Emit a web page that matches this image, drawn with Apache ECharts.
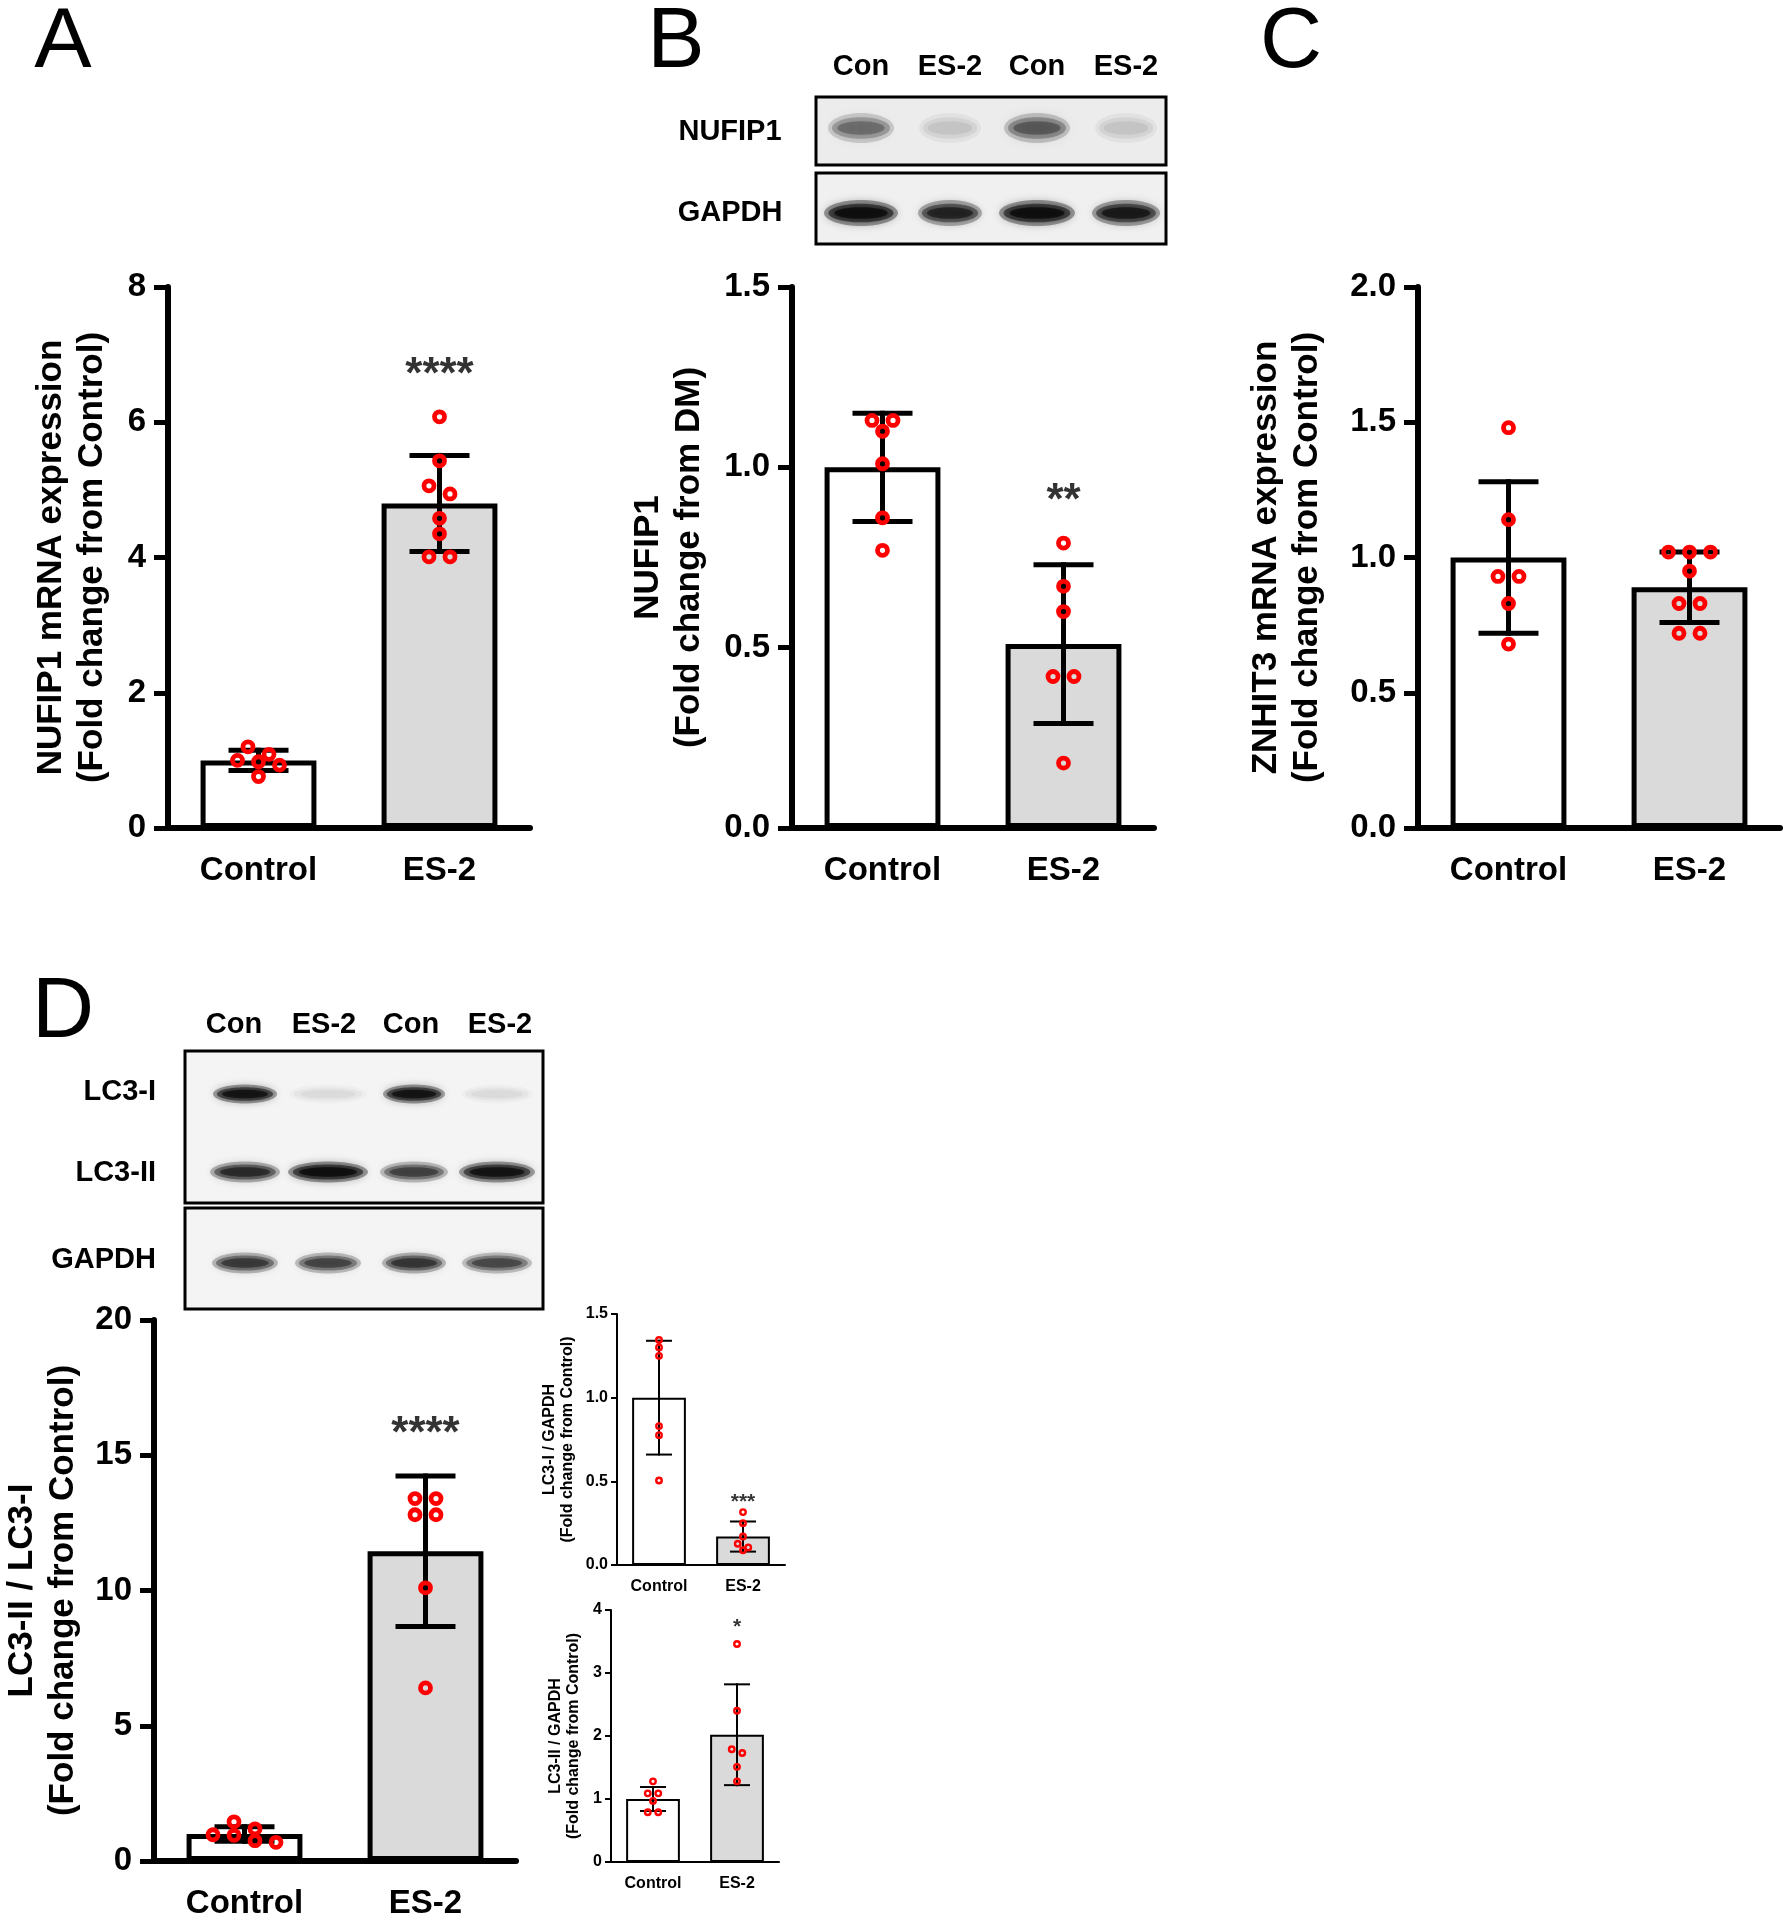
<!DOCTYPE html>
<html><head><meta charset="utf-8">
<script src="https://cdn.jsdelivr.net/npm/echarts@6/dist/echarts.min.js"></script>
<style>html,body{margin:0;padding:0;background:#fff}#c{width:1787px;height:1920px}</style>
</head><body><div id="c"></div>
<script>
// ---------------- DATA ----------------
const categories = ['Control', 'ES-2'];

// Panel A: NUFIP1 mRNA
const aMeans = [1.0, 4.8];
const aSD = [0.15, 0.71];
const aControl = [0.98, 1.09, 0.76, 1.20, 0.93, 1.00];
const aES2 = [6.08, 5.43, 5.06, 4.94, 4.58, 4.35, 4.01, 4.01];
const aTicks = [0, 2, 4, 6, 8];

// Panel B: NUFIP1 protein
const bMeans = [1.0, 0.51];
const bSD = [0.15, 0.22];
const bControl = [1.13, 1.13, 1.10, 1.01, 0.86, 0.77];
const bES2 = [0.79, 0.67, 0.60, 0.42, 0.42, 0.18];
const bTicks = [0.0, 0.5, 1.0, 1.5];

// Panel C: ZNHIT3 mRNA
const cMeans = [1.0, 0.89];
const cSD = [0.28, 0.13];
const cControl = [1.48, 1.14, 0.93, 0.93, 0.83, 0.68];
const cES2 = [1.02, 1.02, 1.02, 0.95, 0.83, 0.83, 0.72, 0.72];
const cTicks = [0.0, 0.5, 1.0, 1.5, 2.0];

// Panel D: LC3-II / LC3-I
const dMeans = [1.0, 11.45];
const dSD = [0.27, 2.78];
const dControl = [1.45, 1.19, 0.97, 0.95, 0.75, 0.69];
const dES2 = [13.4, 13.4, 12.8, 12.8, 10.1, 6.4];
const dTicks = [0, 5, 10, 15, 20];

// Inset 1: LC3-I / GAPDH
const s1Means = [1.0, 0.17];
const s1SD = [0.34, 0.09];
const s1Control = [1.345, 1.30, 1.25, 0.83, 0.776, 0.505];
const s1ES2 = [0.316, 0.25, 0.17, 0.127, 0.105, 0.088];
const s1Ticks = [0.0, 0.5, 1.0, 1.5];

// Inset 2: LC3-II / GAPDH
const s2Means = [1.0, 2.02];
const s2SD = [0.19, 0.80];
const s2Control = [1.28, 1.09, 1.09, 0.97, 0.79, 0.79];
const s2ES2 = [3.46, 2.40, 1.79, 1.73, 1.51, 1.28];
const s2Ticks = [0, 1, 2, 3, 4];

// Western blot labels and relative band intensities (0..1)
const blotLanes = ['Con', 'ES-2', 'Con', 'ES-2'];
const nufip1Band = [0.42, 0.12, 0.5, 0.12];
const gapdhBandB = [1.0, 0.8, 1.0, 0.88];
const lc3IBand = [0.95, 0.07, 0.95, 0.07];
const lc3IIBand = [0.75, 1.0, 0.62, 0.95];
const gapdhBandD = [0.66, 0.6, 0.68, 0.58];

// ---------------- LAYOUT / STYLE ----------------
const FONT = '"Liberation Sans", Arial, Helvetica, sans-serif';
const bigStyle = {axisW: 6, tickLen: 14, tickW: 5, font: 33, titleFont: 35, titleLH: 41, barBorder: 5,
  sym: 10, symBorder: 4.8, cap: 30, errW: 5, rowH: 10, colW: 21, sigFont: 44, sigOff: -41, labMargin: 22, catMargin: 26};
const smallStyle = {axisW: 2, tickLen: 6, tickW: 2, font: 16, titleFont: 16, titleLH: 18, barBorder: 2,
  sym: 5.5, symBorder: 2.4, cap: 13, errW: 2, rowH: 5.4, colW: 10.5, sigFont: 21, sigOff: -10, labMargin: 9, catMargin: 14};

const panels = [
  {means: aMeans, sd: aSD, pts: [aControl, aES2], ticks: aTicks, dec: 0, sig: '****',
   title: 'NUFIP1 mRNA expression\n(Fold change from Control)', grid: {left: 168, top: 287, width: 362, height: 541}, st: bigStyle, nameGap: 55},
  {means: bMeans, sd: bSD, pts: [bControl, bES2], ticks: bTicks, dec: 1, sig: '**',
   title: 'NUFIP1\n(Fold change from DM)', grid: {left: 792, top: 287, width: 362, height: 541}, st: bigStyle, nameGap: 82},
  {means: cMeans, sd: cSD, pts: [cControl, cES2], ticks: cTicks, dec: 1, sig: '',
   title: 'ZNHIT3 mRNA expression\n(Fold change from Control)', grid: {left: 1418, top: 287, width: 362, height: 541}, st: bigStyle, nameGap: 90},
  {means: dMeans, sd: dSD, pts: [dControl, dES2], ticks: dTicks, dec: 0, sig: '****',
   title: 'LC3-II / LC3-I\n(Fold change from Control)', grid: {left: 154, top: 1320, width: 362, height: 542}, st: bigStyle, nameGap: 70},
  {means: s1Means, sd: s1SD, pts: [s1Control, s1ES2], ticks: s1Ticks, dec: 1, sig: '***',
   title: 'LC3-I / GAPDH\n(Fold change from Control)', grid: {left: 617, top: 1314, width: 168, height: 251}, st: smallStyle, nameGap: 40},
  {means: s2Means, sd: s2SD, pts: [s2Control, s2ES2], ticks: s2Ticks, dec: 0, sig: '*',
   title: 'LC3-II / GAPDH\n(Fold change from Control)', grid: {left: 611, top: 1610, width: 168, height: 252}, st: Object.assign({}, smallStyle, {sigOff: -17}), nameGap: 28}
];

// beeswarm-like row spreading (pixel based)
function swarm(vals, pxPerUnit, rowH, colW) {
  const idx = vals.map((v, i) => i).sort((a, b) => vals[b] - vals[a]);
  const off = new Array(vals.length).fill(0);
  let row = [];
  const flush = () => { row.forEach((j, k) => { off[j] = (k - (row.length - 1) / 2) * colW; }); row = []; };
  idx.forEach(j => {
    if (row.length && (vals[row[0]] - vals[j]) * pxPerUnit >= rowH) flush();
    row.push(j);
  });
  flush();
  return off;
}

const grids = [], xAxes = [], yAxes = [], series = [];
panels.forEach((p, i) => {
  const st = p.st;
  const yMin = p.ticks[0], yMax = p.ticks[p.ticks.length - 1], step = p.ticks[1] - p.ticks[0];
  grids.push(Object.assign({containLabel: false}, p.grid));
  xAxes.push({type: 'category', gridIndex: i, data: categories,
    axisLine: {lineStyle: {color: '#000', width: st.axisW}}, axisTick: {show: false},
    axisLabel: {interval: 0, color: '#000', fontSize: st.font, fontWeight: 'bold', fontFamily: FONT, margin: st.catMargin}});
  xAxes.push({type: 'value', gridIndex: i, min: 0, max: 2, show: false});
  yAxes.push({type: 'value', gridIndex: i, min: yMin, max: yMax, interval: step,
    splitLine: {show: false},
    axisLine: {show: true, lineStyle: {color: '#000', width: st.axisW}},
    axisTick: {show: true, inside: false, length: st.tickLen, lineStyle: {color: '#000', width: st.tickW}},
    axisLabel: {color: '#000', fontSize: st.font, fontWeight: 'bold', fontFamily: FONT, margin: st.labMargin,
      formatter: v => v.toFixed(p.dec)},
    name: p.title, nameLocation: 'middle', nameRotate: 90, nameGap: p.nameGap,
    nameTextStyle: {color: '#000', fontSize: st.titleFont, fontWeight: 'bold', fontFamily: FONT, lineHeight: st.titleLH, align: 'center'}});

  // bars
  series.push({type: 'bar', xAxisIndex: 2 * i, yAxisIndex: i, barWidth: '64%', z: 2, silent: true,
    data: p.means.map((m, k) => ({value: m, itemStyle: {color: k ? '#dadada' : '#ffffff'}})),
    itemStyle: {borderColor: '#000', borderWidth: st.barBorder}});

  // error bars (mean ± SD)
  series.push({type: 'custom', xAxisIndex: 2 * i + 1, yAxisIndex: i, z: 3, silent: true,
    encode: {x: 0, y: 1},
    data: p.means.map((m, k) => [k + 0.5, m, p.sd[k]]),
    renderItem: (params, api) => {
      const x = api.value(0), m = api.value(1), s = api.value(2);
      const t = api.coord([x, m + s]), b = api.coord([x, m - s]);
      const style = {stroke: '#000', lineWidth: st.errW, fill: null};
      return {type: 'group', children: [
        {type: 'line', shape: {x1: t[0], y1: t[1] - st.errW / 2, x2: b[0], y2: b[1] + st.errW / 2}, style},
        {type: 'line', shape: {x1: t[0] - st.cap, y1: t[1], x2: t[0] + st.cap, y2: t[1]}, style},
        {type: 'line', shape: {x1: b[0] - st.cap, y1: b[1], x2: b[0] + st.cap, y2: b[1]}, style}
      ]};
    }});

  // individual points
  const pxPerUnit = p.grid.height / (yMax - yMin);
  const catW = p.grid.width / categories.length;
  const pointData = [];
  p.pts.forEach((vals, k) => {
    const off = swarm(vals, pxPerUnit, st.rowH, st.colW);
    vals.forEach((v, j) => pointData.push([k + 0.5 + off[j] / catW, v]));
  });
  series.push({type: 'scatter', xAxisIndex: 2 * i + 1, yAxisIndex: i, z: 4, silent: true,
    symbol: 'circle', symbolSize: st.sym, data: pointData,
    itemStyle: {color: 'rgba(255,255,255,0)', borderColor: '#ff0000', borderWidth: st.symBorder, opacity: 1}});

  // significance stars
  if (p.sig) {
    const top = Math.max(Math.max.apply(null, p.pts[1]), p.means[1] + p.sd[1]);
    series.push({type: 'scatter', xAxisIndex: 2 * i + 1, yAxisIndex: i, z: 5, silent: true,
      symbolSize: 0, data: [[1.5, top]],
      label: {show: true, position: 'inside', offset: [0, st.sigOff], formatter: p.sig,
        color: '#000', fontSize: st.sigFont, fontFamily: FONT, fontWeight: 'bold'}});
  }
});

// ---------------- GRAPHICS (panel letters, blots) ----------------
const graphic = [];
function txt(x, y, s, size, extra) {
  graphic.push({type: 'text', x, y, z: 20, silent: true,
    style: Object.assign({text: s, fontSize: size, fontFamily: FONT, fontWeight: 'bold', fill: '#000',
      align: 'center', verticalAlign: 'middle'}, extra || {})});
}
txt(63, 43, 'A', 86, {fontWeight: 'normal'});
txt(676, 43, 'B', 86, {fontWeight: 'normal'});
txt(1291, 43, 'C', 86, {fontWeight: 'normal'});
txt(63, 1013, 'D', 86, {fontWeight: 'normal'});

function blotBox(x, y, w, h, bg) {
  graphic.push({type: 'rect', z: 15, silent: true, shape: {x, y, width: w, height: h},
    style: {fill: bg, stroke: '#000', lineWidth: 3}});
}
function bands(laneX, cy, h, widths, intens, blur) {
  laneX.forEach((cx, k) => {
    const I = intens[k], w = widths[k];
    const layers = [[1.0, 1.0, 0.35, blur], [0.88, 0.72, 0.5, blur * 0.8], [0.72, 0.45, 0.6, blur * 0.5]];
    layers.forEach(L => {
      const a = Math.min(1, I * L[2]);
      graphic.push({type: 'ellipse', z: 16, silent: true,
        shape: {cx, cy, rx: w / 2 * L[0], ry: h / 2 * L[1]},
        style: {fill: 'rgba(0,0,0,' + a + ')', shadowBlur: L[3], shadowColor: 'rgba(0,0,0,' + a + ')'}});
    });
  });
}

// Blot B
const bLaneX = [861, 950, 1037, 1126];
blotLanes.forEach((s, k) => txt(bLaneX[k], 67, s, 29));
blotBox(816, 97, 350, 68, '#ececec');
blotBox(816, 173, 350, 71, '#f0f0f0');
bands(bLaneX, 128, 30, [66, 62, 66, 62], nufip1Band, 16);
bands(bLaneX, 213, 26, [74, 64, 76, 68], gapdhBandB, 10);
txt(730, 132, 'NUFIP1', 29);
txt(730, 213, 'GAPDH', 29);

// Blot D
const dHeadX = [234, 324, 411, 500];
const dLaneX = [245, 328, 414, 497];
blotLanes.forEach((s, k) => txt(dHeadX[k], 1025, s, 29));
blotBox(185, 1051, 358, 152, '#f4f4f4');
blotBox(185, 1208, 358, 101, '#f4f4f4');
bands(dLaneX, 1094, 19, [64, 78, 62, 72], lc3IBand, 10);
bands(dLaneX, 1172, 21, [70, 80, 68, 76], lc3IIBand, 10);
bands(dLaneX, 1263, 21, [66, 66, 64, 70], gapdhBandD, 10);
txt(156, 1092, 'LC3-I', 29, {align: 'right'});
txt(156, 1173, 'LC3-II', 29, {align: 'right'});
txt(156, 1260, 'GAPDH', 29, {align: 'right'});

const chart = echarts.init(document.getElementById('c'), null, {renderer: 'canvas'});
chart.setOption({
  backgroundColor: '#ffffff',
  animation: false,
  grid: grids, xAxis: xAxes, yAxis: yAxes, series,
  graphic
});
</script>
</body></html>
